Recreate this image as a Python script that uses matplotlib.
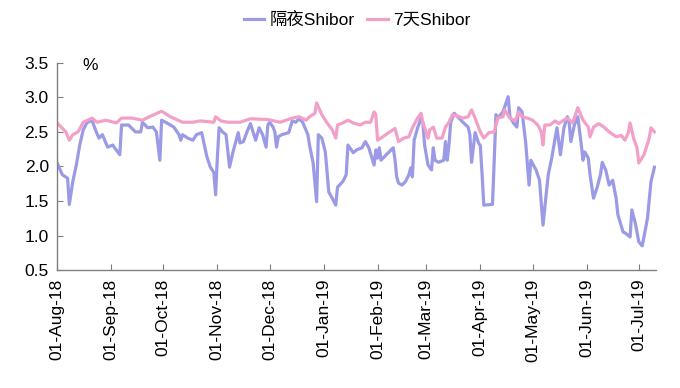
import numpy as np
import matplotlib
matplotlib.use("Agg")
import matplotlib.pyplot as plt
import matplotlib.dates as mdates
from matplotlib.ticker import FormatStrFormatter

plt.rcParams['font.family'] = ['Liberation Sans', 'Noto Sans CJK SC', 'DejaVu Sans']

START = np.datetime64('2018-08-01')

# 隔夜Shibor: days since 2018-08-01 and rate (%)
on_days = [0, 3, 6, 7, 9, 11, 13, 15, 17, 20, 22, 24, 26, 29, 32, 33, 36, 37, 41, 45,
           48, 49, 52, 55, 57, 59, 60, 63, 67, 70, 71, 72, 75, 78, 80, 83, 86, 88, 90, 91,
           92, 93, 95, 97, 99, 101, 104, 105, 107, 109, 111, 114, 116, 118, 120, 121, 122, 124, 125, 126,
           127, 129, 133, 135, 137, 139, 141, 144, 145, 147, 149, 150, 152, 154, 156, 158, 160, 161, 164, 166,
           167, 170, 172, 175, 177, 179, 182, 183, 184, 185, 186, 189, 193, 194, 195, 196, 198, 200, 202, 203,
           204, 205, 207, 209, 210, 211, 213, 215, 216, 217, 219, 222, 223, 224, 225, 226, 228, 230, 233, 236,
           237, 238, 240, 242, 243, 244, 245, 250, 252, 253, 256, 259, 260, 262, 264, 265, 267, 269, 271, 272,
           275, 277, 279, 282, 284, 287, 289, 291, 293, 294, 295, 297, 299, 301, 302, 303, 305, 306, 308, 310,
           312, 313, 315, 317, 319, 321, 322, 325, 326, 329, 330, 332, 334, 336, 339, 341, 343]
on_rate = [2.05, 1.88, 1.83, 1.45, 1.78, 2.02, 2.31, 2.53, 2.63, 2.67, 2.53, 2.41, 2.46, 2.28, 2.31, 2.27, 2.17, 2.60, 2.60, 2.50,
           2.50, 2.64, 2.56, 2.57, 2.50, 2.09, 2.67, 2.63, 2.57, 2.46, 2.38, 2.46, 2.41, 2.38, 2.46, 2.49, 2.14, 1.99, 1.91, 1.59,
           2.12, 2.56, 2.50, 2.46, 1.99, 2.21, 2.49, 2.34, 2.36, 2.50, 2.62, 2.38, 2.56, 2.46, 2.28, 2.60, 2.64, 2.57, 2.50, 2.28,
           2.43, 2.46, 2.49, 2.66, 2.64, 2.69, 2.64, 2.46, 2.30, 2.05, 1.49, 2.46, 2.41, 2.21, 1.63, 1.54, 1.44, 1.70, 1.78, 1.88,
           2.31, 2.20, 2.24, 2.27, 2.36, 2.27, 2.02, 2.24, 2.12, 2.27, 2.09, 2.17, 2.27, 2.10, 1.85, 1.76, 1.73, 1.78, 1.88, 1.98,
           1.85, 2.38, 2.56, 2.70, 2.64, 2.31, 2.02, 1.95, 2.27, 2.09, 2.06, 2.09, 2.36, 2.09, 2.31, 2.64, 2.77, 2.72, 2.64, 2.57,
           2.46, 2.06, 2.49, 2.34, 2.30, 1.90, 1.44, 1.45, 2.75, 2.70, 2.79, 3.01, 2.72, 2.63, 2.57, 2.85, 2.79, 2.36, 1.73, 2.09,
           1.95, 1.80, 1.15, 1.88, 2.12, 2.56, 2.17, 2.56, 2.72, 2.64, 2.36, 2.60, 2.72, 2.31, 2.09, 2.21, 2.12, 1.88, 1.54, 1.69,
           1.88, 2.06, 1.95, 1.73, 1.80, 1.54, 1.30, 1.05, 1.04, 0.98, 1.37, 1.18, 0.91, 0.85, 1.25, 1.78, 1.99]

# 7天Shibor: days since 2018-08-01 and rate (%)
w1_days = [0, 5, 7, 9, 12, 15, 20, 23, 28, 34, 37, 43, 49, 53, 60, 65, 72, 78, 82, 90,
           91, 94, 98, 105, 111, 121, 128, 135, 139, 143, 145, 148, 149, 152, 155, 158, 160, 161, 164, 167,
           170, 174, 177, 180, 182, 183, 184, 187, 191, 194, 196, 199, 202, 204, 207, 209, 210, 213, 214, 216,
           218, 221, 223, 225, 227, 230, 233, 236, 238, 240, 243, 245, 248, 251, 253, 256, 257, 260, 263, 265,
           267, 270, 273, 276, 278, 279, 280, 283, 286, 288, 291, 293, 296, 299, 302, 305, 306, 308, 311, 314,
           317, 321, 324, 326, 328, 329, 331, 333, 334, 337, 340, 341, 343]
w1_rate = [2.63, 2.50, 2.38, 2.46, 2.50, 2.64, 2.70, 2.64, 2.67, 2.63, 2.70, 2.70, 2.67, 2.72, 2.80, 2.72, 2.64, 2.64, 2.66, 2.64,
           2.72, 2.66, 2.64, 2.64, 2.69, 2.68, 2.64, 2.70, 2.72, 2.67, 2.72, 2.77, 2.92, 2.75, 2.63, 2.53, 2.41, 2.60, 2.63, 2.67,
           2.63, 2.60, 2.64, 2.64, 2.79, 2.75, 2.38, 2.43, 2.50, 2.55, 2.36, 2.41, 2.43, 2.56, 2.70, 2.77, 2.64, 2.41, 2.53, 2.57,
           2.41, 2.41, 2.57, 2.64, 2.75, 2.73, 2.70, 2.72, 2.82, 2.70, 2.50, 2.41, 2.49, 2.50, 2.70, 2.72, 2.82, 2.70, 2.66, 2.79,
           2.72, 2.70, 2.67, 2.60, 2.50, 2.31, 2.60, 2.60, 2.66, 2.62, 2.67, 2.70, 2.63, 2.85, 2.67, 2.57, 2.43, 2.57, 2.62, 2.57,
           2.50, 2.43, 2.45, 2.38, 2.49, 2.63, 2.41, 2.27, 2.05, 2.17, 2.41, 2.56, 2.50]

tick_dates = ['2018-08-01', '2018-09-01', '2018-10-01', '2018-11-01', '2018-12-01', '2019-01-01',
              '2019-02-01', '2019-03-01', '2019-04-01', '2019-05-01', '2019-06-01', '2019-07-01']
y_ticks = [0.5, 1.0, 1.5, 2.0, 2.5, 3.0, 3.5]
labels = ['隔夜Shibor', '7天Shibor']
colors = ['#9a9ae6', '#f2a0c8']

on_x = (START + np.array(on_days, dtype='timedelta64[D]')).astype('datetime64[D]')
w1_x = (START + np.array(w1_days, dtype='timedelta64[D]')).astype('datetime64[D]')
ticks_x = np.array(tick_dates, dtype='datetime64[D]')

fig = plt.figure(figsize=(6.8, 3.88), dpi=100)
ax = fig.add_axes([0.084, 0.304, 0.881, 0.534])

ax.plot(on_x, on_rate, color=colors[0], lw=2.3, label=labels[0], solid_joinstyle='round')
ax.plot(w1_x, w1_rate, color=colors[1], lw=2.3, label=labels[1], solid_joinstyle='round')

ax.set_xlim(START, START + np.timedelta64(344, 'D'))
ax.set_ylim(0.5, 3.5)
ax.set_yticks(y_ticks)
ax.yaxis.set_major_formatter(FormatStrFormatter('%.1f'))
ax.set_xticks(ticks_x)
ax.xaxis.set_major_formatter(mdates.DateFormatter('%d-%b-%y'))

for s in ['top', 'right']:
    ax.spines[s].set_visible(False)
for s in ['left', 'bottom']:
    ax.spines[s].set_color('#808080')
    ax.spines[s].set_linewidth(1.0)

ax.tick_params(axis='both', direction='in', length=4, color='#808080', labelsize=12.5, labelcolor='black')
ax.tick_params(axis='x', rotation=90, pad=6)
ax.tick_params(axis='y', pad=6)

ax.text(0.055, 0.985, '%', transform=ax.transAxes, fontsize=12.5, va='center', ha='center')

fig.legend(loc='center', bbox_to_anchor=(0.525, 0.948), ncol=2, frameon=False,
           fontsize=12.5, handlelength=1.2, handletextpad=0.3, columnspacing=0.7)

fig.savefig('out.png', dpi=100)
